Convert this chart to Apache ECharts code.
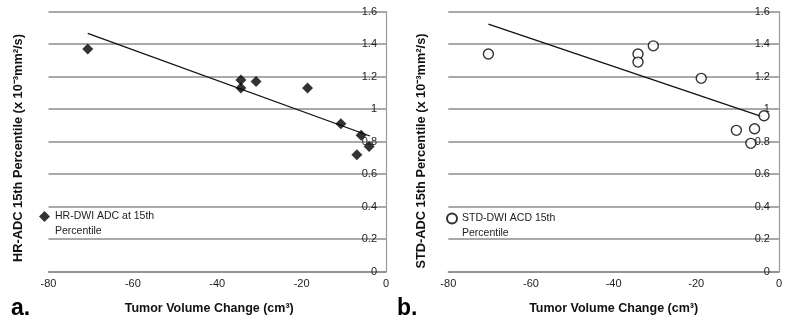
<!DOCTYPE html>
<html>
<head>
<meta charset="utf-8">
<script src="https://cdn.jsdelivr.net/npm/echarts@6/dist/echarts.min.js"></script>
<style>html,body{margin:0;padding:0;background:#fff}#c{width:785px;height:323px}</style>
</head>
<body>
<div id="c"></div>
<script>
// Panel a: HR-DWI ADC at 15th percentile
var hrPoints = [[-70.7,1.37],[-34.4,1.18],[-34.4,1.13],[-30.8,1.17],[-18.6,1.13],[-10.7,0.91],[-5.9,0.84],[-6.9,0.72],[-4.0,0.77]];
var hrTrend = [[-70.7,1.467],[-3.8,0.835]];
// Panel b: STD-DWI ACD 15th percentile
var stdPoints = [[-70.3,1.34],[-34.1,1.34],[-34.1,1.29],[-30.4,1.39],[-18.8,1.19],[-10.3,0.87],[-5.9,0.88],[-6.8,0.79],[-3.6,0.96]];
var stdTrend = [[-70.3,1.524],[-4.1,0.954]];
var xTicks = [-80,-60,-40,-20,0];
var yTicks = [0,0.2,0.4,0.6,0.8,1,1.2,1.4,1.6];
var nameA = 'HR-DWI ADC at 15th Percentile';
var nameB = 'STD-DWI ACD 15th Percentile';

var FONT = 'Liberation Sans';
var chart = echarts.init(document.getElementById('c'));

function xAx(idx, pad){
  return {
    type:'value', gridIndex:idx, min:xTicks[0], max:xTicks[xTicks.length-1], interval:20,
    name:'Tumor Volume Change (cm³)', nameLocation:'middle', nameGap:30,
    nameTextStyle:{fontFamily:FONT, fontWeight:'bold', fontSize:12.5, color:'#111', padding:pad},
    axisLine:{show:true, lineStyle:{color:'#8c8c8c', width:1.5}},
    axisTick:{show:false}, splitLine:{show:false},
    axisLabel:{margin:7, fontFamily:FONT, fontSize:11, color:'#222'}
  };
}
function yAx(idx){
  return {
    type:'value', gridIndex:idx, position:'right', min:yTicks[0], max:yTicks[yTicks.length-1], interval:0.2,
    axisLine:{show:true, onZero:false, lineStyle:{color:'#9a9a9a', width:1.2}},
    axisTick:{show:false},
    splitLine:{show:true, lineStyle:{color:'#8c8c8c', width:1.5}},
    axisLabel:{inside:true, margin:9, fontFamily:FONT, fontSize:11, color:'#222'}
  };
}
function legendFmt(n){
  var i = n.lastIndexOf(' ');
  return ' \n' + n.slice(0, i) + '\n' + n.slice(i + 1);
}

chart.setOption({
  animation:false,
  backgroundColor:'#fff',
  grid:[
    {left:48.5, top:11.7, width:337.5, height:260},
    {left:448.3, top:11.7, width:337, height:260}
  ],
  xAxis:[xAx(0, [0,16,0,0]), xAx(1, [0,0,0,0])],
  yAxis:[yAx(0), yAx(1)],
  legend:[
    {data:[nameA], formatter:legendFmt, left:34, top:189, orient:'vertical', itemWidth:11, itemHeight:11, itemGap:4,
     textStyle:{fontFamily:FONT, fontSize:10.5, color:'#222', lineHeight:15}},
    {data:[nameB], formatter:legendFmt, left:441, top:191, orient:'vertical', itemWidth:10, itemHeight:10, itemGap:4,
     textStyle:{fontFamily:FONT, fontSize:10.5, color:'#222', lineHeight:15}}
  ],
  series:[
    {type:'line', xAxisIndex:0, yAxisIndex:0, data:hrTrend, symbol:'none', lineStyle:{color:'#111', width:1.3}, z:3},
    {name:nameA, type:'scatter', xAxisIndex:0, yAxisIndex:0, data:hrPoints,
     symbol:'diamond', symbolSize:11, itemStyle:{color:'#000'}, z:4},
    {type:'line', xAxisIndex:1, yAxisIndex:1, data:stdTrend, symbol:'none', lineStyle:{color:'#111', width:1.3}, z:3},
    {name:nameB, type:'scatter', xAxisIndex:1, yAxisIndex:1, data:stdPoints,
     symbol:'circle', symbolSize:10, itemStyle:{color:'#fff', borderColor:'#000', borderWidth:1.4}, z:4}
  ],
  graphic:[
    {type:'text', left:11, top:297, style:{text:'a.', font:'bold 23px "Liberation Sans"', fill:'#000'}},
    {type:'text', left:397, top:297, style:{text:'b.', font:'bold 23px "Liberation Sans"', fill:'#000'}},
    {type:'text', x:18, y:148, rotation:Math.PI/2, style:{text:'HR-ADC 15th Percentile (x 10⁻³mm²/s)', font:'bold 12.8px "Liberation Sans"', fill:'#111', align:'center', verticalAlign:'middle'}},
    {type:'text', x:421, y:151, rotation:Math.PI/2, style:{text:'STD-ADC 15th Percentile (x 10⁻³mm²/s)', font:'bold 12.8px "Liberation Sans"', fill:'#111', align:'center', verticalAlign:'middle'}}
  ]
});
</script>
</body>
</html>
